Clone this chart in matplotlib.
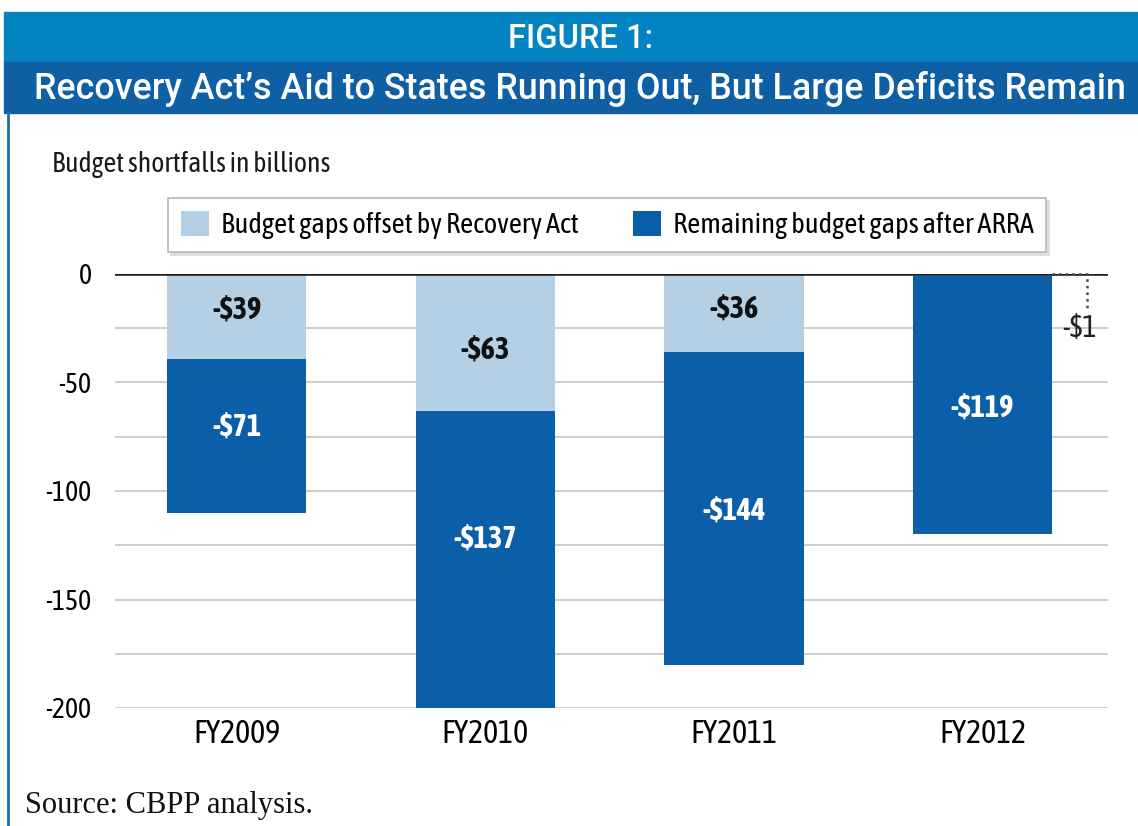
import matplotlib

matplotlib.use("Agg")
import matplotlib.pyplot as plt
from matplotlib.patches import Rectangle
from matplotlib.lines import Line2D

# data
years = ["FY2009", "FY2010", "FY2011", "FY2012"]
offset_by_arra = [-39, -63, -36, -1]
remaining_gaps = [-71, -137, -144, -119]
offset_labels = ["-$39", "-$63", "-$36", ""]
remaining_labels = ["-$71", "-$137", "-$144", "-$119"]
y_ticks = [0, -50, -100, -150, -200]
grid_levels = [-25, -50, -75, -100, -125, -150, -175, -200]

# label nudges (data units) so labels sit where the original put them
light_nudge = [3, -3.5, 2, 0]
dark_nudge = [4, 9.5, -1, -1.3]

LIGHT = "#b5d0e4"
DARK = "#0b5ea8"
BAND_TOP = "#0384c2"
BAND_TITLE = "#0e5fa4"
NARROW = ["Asap Condensed", "DejaVu Sans"]
HEAD = ["Roboto", "Liberation Sans", "DejaVu Sans"]

W, H = 1138, 826
fig = plt.figure(figsize=(W / 100, H / 100), dpi=100)


def fx(px):
    return px / W


def fy(py):
    return 1 - py / H


# header bands and frame
fig.patches.append(Rectangle((fx(4), fy(62)), fx(1134), 50 / H, transform=fig.transFigure,
                             color=BAND_TOP, zorder=0))
fig.patches.append(Rectangle((fx(4), fy(113)), fx(1134), 51 / H, transform=fig.transFigure,
                             color=BAND_TITLE, zorder=0))
fig.lines.append(Line2D([fx(8), fx(8)], [fy(113), 0], transform=fig.transFigure,
                        color="#1f6db5", linewidth=2))
fig.text(fx(581), fy(39), "FIGURE 1:", color="white", fontsize=23.5, ha="center", va="center",
         family=HEAD, fontweight="medium")
fig.text(fx(580), fy(89), "Recovery Act\u2019s Aid to States Running Out, But Large Deficits Remain",
         color="white", fontsize=25.8, ha="center", va="center", family=HEAD,
         fontweight="medium")

ax = fig.add_axes([fx(115), fy(708), fx(1108 - 115), (708 - 274) / H])
x = list(range(len(years)))
width = 0.56

for level in grid_levels:
    ax.axhline(level, color="#c9c9c9", linewidth=1.3, zorder=0)

ax.bar(x, offset_by_arra, width=width, color=LIGHT, zorder=2,
       label="Budget gaps offset by Recovery Act")
ax.bar(x, remaining_gaps, width=width, bottom=offset_by_arra, color=DARK, zorder=2,
       label="Remaining budget gaps after ARRA")
ax.axhline(0, color="#1a1a1a", linewidth=1.8, zorder=3)

for i in x:
    if offset_labels[i]:
        ax.text(i, offset_by_arra[i] / 2 + light_nudge[i], offset_labels[i], ha="center",
                va="center", fontsize=22, fontweight="bold", color="#111111", family=NARROW,
                zorder=4)
    mid = offset_by_arra[i] + remaining_gaps[i] / 2
    ax.text(i, mid + dark_nudge[i], remaining_labels[i], ha="center", va="center",
            fontsize=22, fontweight="bold", color="white", family=NARROW, zorder=4)

# tiny FY2012 offset callout
right_edge = x[3] + width / 2
ax.plot([right_edge, 3.42, 3.42], [0, 0, -16], color="#444444", linestyle=":",
        linewidth=1.8, clip_on=False, zorder=4)
ax.text(3.39, -25.3, "-$1", ha="center", va="center", fontsize=22, color="#222222",
        family=NARROW)

ax.set_xlim(-0.49, 3.505)
ax.set_ylim(-200, 0)
ax.set_yticks(y_ticks)
ax.set_yticklabels([str(t) for t in y_ticks], family=NARROW, fontsize=20)
ax.set_xticks(x)
ax.set_xticklabels(years, family=NARROW, fontsize=23)
ax.tick_params(length=0, pad=17)
ax.tick_params(axis="x", pad=8)
for spine in ax.spines.values():
    spine.set_visible(False)

fig.text(fx(52), fy(165), "Budget shortfalls in billions", fontsize=20, va="center",
         family=NARROW, color="#1a1a1a")

leg = ax.legend(loc="upper left", ncol=2, frameon=True, fancybox=False,
                shadow={"color": "#dddddd", "alpha": 1}, edgecolor="#b8b8b8",
                bbox_to_anchor=(fx(168), fy(198)),
                bbox_transform=fig.transFigure, prop={"family": NARROW, "size": 20.5},
                handlelength=1.0, handleheight=1.0, handletextpad=0.4, borderaxespad=0,
                columnspacing=1.9, borderpad=0.45)
leg.get_frame().set_linewidth(1.2)

fig.text(fx(25), fy(806), "Source: CBPP analysis.", fontsize=22, va="center",
         family="Liberation Serif", color="#111111")

fig.savefig("out.png", dpi=100)
